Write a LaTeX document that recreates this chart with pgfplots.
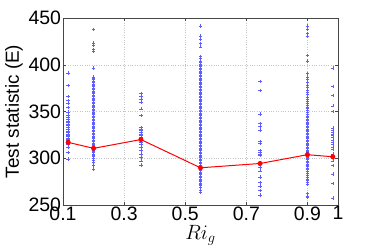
\documentclass[border=0pt]{standalone}
\usepackage{fontspec}
\setmainfont{Liberation Sans}
\usepackage{pgfplots}
\pgfplotsset{compat=1.18}
\definecolor{markblue}{RGB}{95,95,255}
\begin{document}
\begin{tikzpicture}
\useasboundingbox (-63bp,-44bp) rectangle (311bp,205bp);
\begin{axis}[
  at={(0,0)}, anchor=south west,
  scale only axis, width=275bp, height=187bp,
  xmin=0.1, xmax=1, ymin=250, ymax=450,
  xtick={0.1,0.3,0.5,0.7,0.9,1},
  xticklabels={0.1,0.3,0.5,0.7,0.9,1},
  ytick={250,300,350,400,450},
  yticklabels={250,300,350,400,450},
  tick align=inside,
  grid=major,
  major grid style={dotted, gray!45, line width=0.4pt},
  axis line style={gray!55!black},
  tick style={gray!55!black},
  major tick length=3bp,
  ticklabel style={font=\fontsize{19.5}{19.5}\selectfont},
  xticklabel style={yshift=2bp},
  yticklabel style={xshift=1.5bp},
  xlabel={$Ri_g$},
  xlabel style={font=\fontsize{20}{20}\selectfont, yshift=2bp},
  ylabel={Test statistic (E)},
  ylabel style={font=\fontsize{19}{19}\selectfont, yshift=-1bp},
  clip=true,
]
\pgfplotsset{scat/.style={only marks, mark=+, mark size=1.7pt, draw=markblue, mark options={solid, line width=0.55pt, draw=markblue, color=markblue}}}
% Ri_g = 0.12
\addplot[scat] coordinates {
(0.117,391.2)(0.117,377.6)(0.117,365.8)(0.117,361.8)(0.117,358.3)(0.117,354.6)(0.117,349.3)(0.117,345.7)
(0.117,344)(0.117,342.1)(0.117,340)(0.117,338.5)(0.117,336)(0.117,335)(0.117,333)(0.117,331.4)(0.117,329)
(0.117,327.8)(0.117,326)(0.117,324.5)(0.117,323.1)(0.117,321.8)(0.117,320.6)(0.117,318.8)(0.117,317)
(0.117,315.3)(0.117,311.6)(0.117,306.2)(0.117,299.1)};
% Ri_g = 0.2
\addplot[scat] coordinates {
(0.2,437.8)(0.2,423.4)(0.2,421)(0.2,416.3)(0.2,414.5)(0.2,396.6)
(0.2,387)(0.2,385.5)(0.2,384)(0.2,382.6)(0.2,381)(0.2,379.4)(0.2,378)(0.2,376.5)(0.2,375)(0.2,373.6)
(0.2,372)(0.2,370.5)(0.2,369)(0.2,367.4)(0.2,366)(0.2,364.5)(0.2,363)(0.2,361.6)(0.2,360)(0.2,358.5)
(0.2,357)(0.2,355.6)(0.2,354)(0.2,352.5)(0.2,351)(0.2,349.6)(0.2,348)(0.2,346.5)(0.2,345)(0.2,343.6)
(0.2,342)(0.2,340.5)(0.2,339)(0.2,337.6)(0.2,336)(0.2,334.5)(0.2,333)(0.2,331.6)(0.2,330)(0.2,328.5)
(0.2,327)(0.2,325.6)(0.2,324)(0.2,322.5)(0.2,321)(0.2,319.6)(0.2,318)(0.2,316.5)(0.2,315)(0.2,313.6)
(0.2,312)(0.2,310.5)(0.2,309)(0.2,307.6)(0.2,306)(0.2,304.5)(0.2,303)(0.2,301.6)(0.2,300)(0.2,298.2)
(0.2,296)(0.2,292)(0.2,288.4)};
% Ri_g = 0.35
\addplot[scat] coordinates {
(0.355,369)(0.355,366.1)(0.355,362.9)(0.355,360)(0.355,352.9)(0.355,345.7)(0.355,333.1)(0.355,331.4)
(0.355,329.6)(0.355,327.8)(0.355,326)(0.355,324.2)(0.355,322.4)(0.355,320)(0.355,317)(0.355,315.3)
(0.355,311.6)(0.355,308.1)(0.355,304.5)(0.355,300.9)(0.355,297.3)(0.355,292.7)};
% Ri_g = 0.55
\addplot[scat] coordinates {
(0.55,441.4)(0.55,430.6)(0.55,427)(0.55,422.7)(0.55,419.2)(0.55,409)(0.55,406.6)
(0.55,404)(0.55,402.5)(0.55,401)(0.55,399.5)(0.55,398)(0.55,396.6)(0.55,395)(0.55,393.5)(0.55,392)
(0.55,390.6)(0.55,389)(0.55,387.5)(0.55,386)(0.55,384.6)(0.55,383)(0.55,381.5)(0.55,380)(0.55,378.6)
(0.55,377)(0.55,375.5)(0.55,374)(0.55,372.6)(0.55,371)(0.55,369.5)(0.55,368)(0.55,366.6)(0.55,365)
(0.55,363.5)(0.55,362)(0.55,360.6)(0.55,359)(0.55,357.5)(0.55,356)(0.55,354.6)(0.55,353)(0.55,351.5)
(0.55,350)(0.55,348.6)(0.55,347)(0.55,345.5)(0.55,344)(0.55,342.6)(0.55,341)(0.55,339.5)(0.55,338)
(0.55,336.6)(0.55,335)(0.55,333.5)(0.55,332)(0.55,330.6)(0.55,329)(0.55,327.5)(0.55,326)(0.55,324.6)
(0.55,323)(0.55,321.5)(0.55,320)(0.55,318.6)(0.55,317)(0.55,315.5)(0.55,314)(0.55,312.6)(0.55,311)
(0.55,309.5)(0.55,308)(0.55,306.6)(0.55,305)(0.55,303.5)(0.55,302)(0.55,300.6)(0.55,299)(0.55,297.5)
(0.55,296)(0.55,294.6)(0.55,293)(0.55,291.5)(0.55,290)(0.55,288.6)(0.55,287)(0.55,285.5)(0.55,284)
(0.55,282.6)(0.55,281)(0.55,279.5)(0.55,278)(0.55,276.6)(0.55,275)(0.55,273.5)(0.55,272)(0.55,270.6)
(0.55,269)(0.55,266)(0.55,263.2)};
% Ri_g = 0.75
\addplot[scat] coordinates {
(0.745,382.3)(0.745,372.2)(0.745,347.5)(0.745,337.4)(0.745,334.2)(0.745,330.3)(0.745,318.1)(0.745,316)
(0.745,308.1)(0.745,306.2)(0.745,304.5)(0.745,302.7)(0.745,290.1)(0.745,286.6)(0.745,280.1)(0.745,274)
(0.745,270.4)(0.745,265.8)(0.745,260.8)};
% Ri_g = 0.9
\addplot[scat] coordinates {
(0.9,441.4)(0.9,437.8)(0.9,433.5)(0.9,430.6)(0.9,410.2)(0.9,404.1)
(0.9,390.5)(0.9,387)(0.9,384)(0.9,381)(0.9,378)(0.9,375.5)(0.9,373)(0.9,370.5)(0.9,368)(0.9,365.5)
(0.9,363)(0.9,361)(0.9,359)(0.9,357)(0.9,355)(0.9,353)(0.9,351)(0.9,349)(0.9,347)(0.9,345)(0.9,343.5)
(0.9,342)(0.9,340.5)(0.9,339)(0.9,337.5)(0.9,336)(0.9,334.5)(0.9,333)(0.9,331.5)(0.9,330)(0.9,328.5)
(0.9,327)(0.9,325.5)(0.9,324)(0.9,322.5)(0.9,321)(0.9,319.5)(0.9,318)(0.9,316.5)(0.9,315)(0.9,313.5)
(0.9,312)(0.9,310.5)(0.9,309)(0.9,307.5)(0.9,306)(0.9,304.5)(0.9,303)(0.9,301.5)(0.9,300)(0.9,298.5)
(0.9,297)(0.9,295.5)(0.9,294)(0.9,292.5)(0.9,291)(0.9,289.5)(0.9,288)(0.9,286)(0.9,284)(0.9,282)
(0.9,280)(0.9,278)(0.9,276)(0.9,274)(0.9,272.2)(0.9,262.2)(0.9,259)(0.9,257.9)};
% Ri_g = 0.98
\addplot[scat] coordinates {
(0.983,396.6)(0.983,376.9)(0.983,367.2)(0.983,356.1)(0.983,350)(0.983,332.4)(0.983,330.3)(0.983,327.8)
(0.983,326)(0.983,324.2)(0.983,322.4)(0.983,319.5)(0.983,317)(0.983,314.5)(0.983,311.6)(0.983,309.9)
(0.983,304.5)(0.983,297.3)(0.983,292)(0.983,283)(0.983,272.9)(0.983,257.5)};
% mean line
\addplot[red, line width=1pt, mark=*, mark size=2pt, mark options={fill=red, draw=red}] coordinates {
(0.117,317)(0.2,310.6)(0.355,320)(0.55,289.8)(0.745,294.4)(0.9,303.8)(0.983,301.6)};
\end{axis}
\end{tikzpicture}
\end{document}
